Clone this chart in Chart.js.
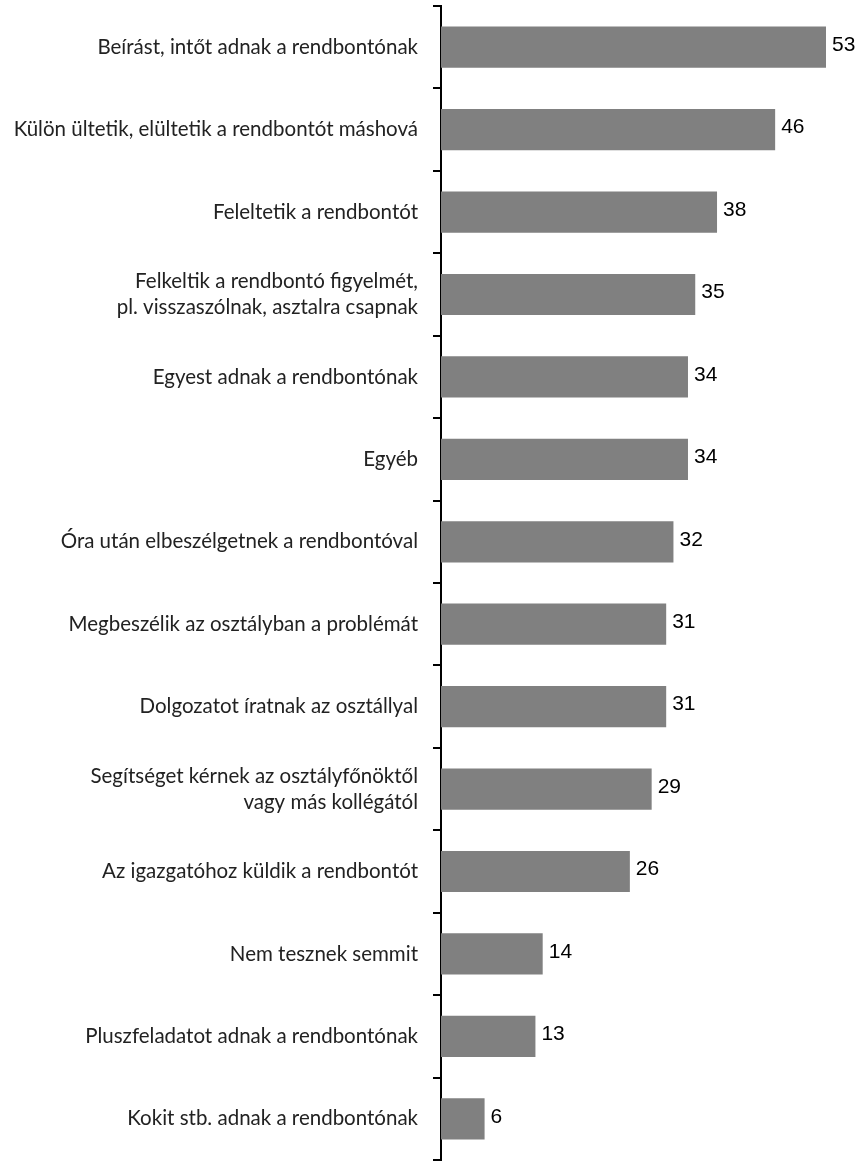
<!DOCTYPE html>
<html>
<head>
<meta charset="utf-8">
<script src="https://cdn.jsdelivr.net/npm/chart.js@4/dist/chart.umd.min.js"></script>
<style>
  html, body { margin: 0; padding: 0; background: #fff; }
  #wrap { width: 863px; height: 1165px; }
</style>
</head>
<body>
<div id="wrap"><canvas id="chart"></canvas></div>
<script>
// kategóriák (a hosszabbakat két sorba törve)
const categories = [
  'Beírást, intőt adnak a rendbontónak',
  'Külön ültetik, elültetik a rendbontót máshová',
  'Feleltetik a rendbontót',
  ['Felkeltik a rendbontó figyelmét,', 'pl. visszaszólnak, asztalra csapnak'],
  'Egyest adnak a rendbontónak',
  'Egyéb',
  'Óra után elbeszélgetnek a rendbontóval',
  'Megbeszélik az osztályban a problémát',
  'Dolgozatot íratnak az osztállyal',
  ['Segítséget kérnek az osztályfőnöktől', 'vagy más kollégától'],
  'Az igazgatóhoz küldik a rendbontót',
  'Nem tesznek semmit',
  'Pluszfeladatot adnak a rendbontónak',
  'Kokit stb. adnak a rendbontónak'
];
const values = [53, 46, 38, 35, 34, 34, 32, 31, 31, 29, 26, 14, 13, 6];

// értékcímkék a sávok végére
const valueLabels = {
  id: 'valueLabels',
  afterDatasetsDraw(chart) {
    const ctx = chart.ctx;
    const meta = chart.getDatasetMeta(0);
    ctx.save();
    ctx.font = '21px "Liberation Sans", Arial, sans-serif';
    ctx.fillStyle = '#000';
    ctx.textAlign = 'left';
    ctx.textBaseline = 'middle';
    meta.data.forEach((bar, i) => {
      ctx.fillText(values[i], bar.x + 6, bar.y - 2);
    });
    ctx.restore();
  }
};

new Chart(document.getElementById('chart'), {
  type: 'bar',
  data: {
    labels: categories,
    datasets: [{
      data: values,
      backgroundColor: '#808080',
      borderWidth: 0,
      barPercentage: 0.5,
      categoryPercentage: 1
    }]
  },
  options: {
    indexAxis: 'y',
    responsive: true,
    maintainAspectRatio: false,
    animation: false,
    layout: { padding: { top: 6, bottom: 5, right: 37, left: 0 } },
    plugins: {
      legend: { display: false },
      tooltip: { enabled: false }
    },
    scales: {
      x: {
        display: false,
        min: 0,
        max: 53
      },
      y: {
        afterFit(scale) {
          scale.width = 441;
          scale.paddingTop = 0;
          scale.paddingBottom = 0;
        },
        border: { display: true, color: '#000', width: 2 },
        grid: {
          offset: true,
          drawOnChartArea: false,
          drawTicks: true,
          tickLength: 8,
          color: '#000',
          lineWidth: 2
        },
        ticks: {
          padding: 15,
          color: '#222',
          font: { family: 'Lato, "Open Sans", sans-serif', size: 20.5, lineHeight: 1.27 }
        }
      }
    }
  },
  plugins: [valueLabels]
});
</script>
</body>
</html>
